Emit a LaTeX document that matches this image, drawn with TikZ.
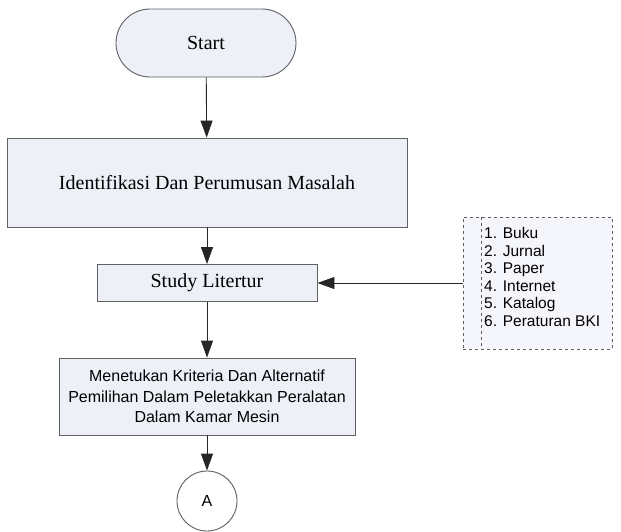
\documentclass[tikz,border=0pt]{standalone}
\usepackage{fontspec}
\setmainfont{Liberation Serif}
\setsansfont{Liberation Sans}
\usetikzlibrary{arrows.meta}
\definecolor{boxfill}{RGB}{238,240,248}
\definecolor{boxline}{RGB}{95,95,100}
\begin{document}
\begin{tikzpicture}[x=1pt,y=-1pt,
  box/.style={draw=boxline,fill=boxfill,line width=0.9pt,inner sep=0pt,font=\fontsize{20}{24}\selectfont},
  sansbox/.style={box,align=center,font=\sffamily\fontsize{16}{20.5}\selectfont},
  arr/.style={draw=black!85,line width=0.9pt,-{Triangle[length=17pt,width=12pt]}}]

\useasboundingbox (0,0) rectangle (621,531);

% Flow
\node [box,rounded corners=34pt,minimum width=180pt,minimum height=68pt] (start) at (206,43) {Start};
\node [box,minimum width=400pt,minimum height=89pt] (ident) at (207,182.5) {Identifikasi Dan Perumusan Masalah};
\node [box,minimum width=220pt,minimum height=37pt] (study) at (207,283) {Study Litertur};
\node [sansbox,minimum width=296pt,minimum height=77pt] (kriteria) at (207,396.5)
  {Menetukan Kriteria Dan Alternatif\\Pemilihan Dalam Peletakkan Peralatan\\Dalam Kamar Mesin};
\node [draw=boxline,fill=white,line width=0.9pt,circle,minimum size=60pt,inner sep=0pt,
  font=\sffamily\fontsize{16}{19}\selectfont] (konektor) at (207,501) {A};

% Sources
\node [draw=boxline,fill=boxfill!60,dashed,line width=0.8pt,minimum width=149pt,minimum height=132pt] (sumber) at (537.5,283) {};
\draw [draw=boxline,dashed,line width=0.8pt] (sumber.north -| 481.5,0) -- (sumber.south -| 481.5,0);
\node [anchor=west,align=left,inner sep=0pt,font=\sffamily\fontsize{15.5}{17.6}\selectfont] (daftar) at (484,277)
  {1. Buku\\2. Jurnal\\3. Paper\\4. Internet\\5. Katalog\\6. Peraturan BKI};

% Arrows
\draw [arr] (start) -- (ident);
\draw [arr] (ident) -- (study);
\draw [arr] (sumber) -- (study);
\draw [arr] (study) -- (kriteria);
\draw [arr] (kriteria) -- (konektor);
\end{tikzpicture}
\end{document}
